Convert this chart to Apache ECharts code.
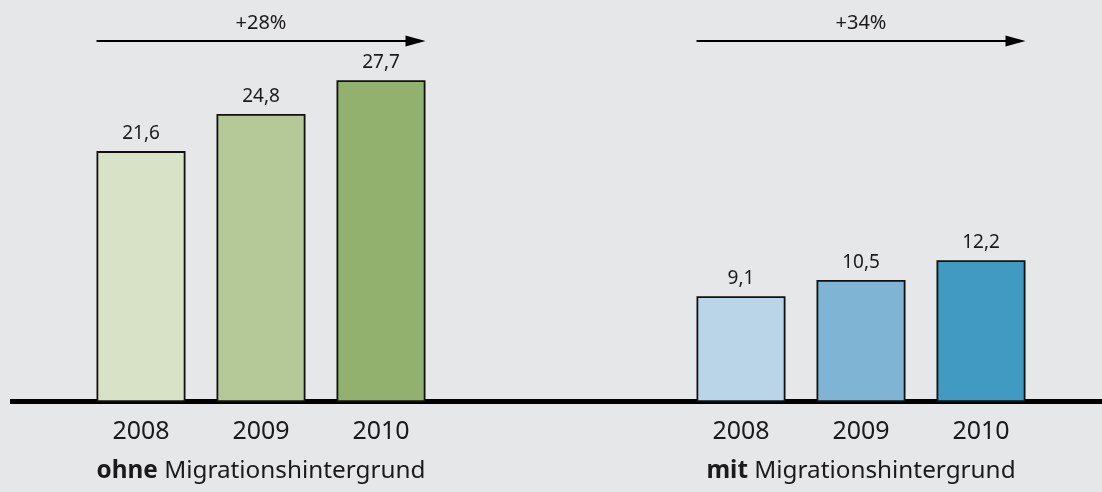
<!DOCTYPE html>
<html>
<head>
<meta charset="utf-8">
<script src="https://cdn.jsdelivr.net/npm/echarts@6/dist/echarts.min.js"></script>
<style>
html,body{margin:0;padding:0;background:#e6e7e9;}
#chart{width:1102px;height:492px;}
</style>
</head>
<body>
<div id="chart"></div>
<script>
// ---- data ----
const categories = ['2008', '2009', '2010', '', '', '2008', '2009', '2010'];
const ohneValues = [21.6, 24.8, 27.7];
const mitValues = [9.1, 10.5, 12.2];
const groupLabels = ['ohne', 'mit'];
const groupSuffix = ' Migrationshintergrund';
const changeLabels = ['+28%', '+34%'];

const ohneColors = ['#d8e2c7', '#b4c898', '#92b06e'];
const mitColors = ['#bad5e8', '#7fb4d4', '#409ac1'];

const FONT = '"Noto Sans", "Open Sans", sans-serif';
const BAR_W = 89;

const seriesData = [];
ohneValues.forEach((v, i) => seriesData.push({ value: v, itemStyle: { color: ohneColors[i] } }));
seriesData.push('-', '-');
mitValues.forEach((v, i) => seriesData.push({ value: v, itemStyle: { color: mitColors[i] } }));

const chart = echarts.init(document.getElementById('chart'));
const option = {
  backgroundColor: '#e6e7e9',
  animation: false,
  grid: [
    { left: 81, right: 61, top: 53.5, bottom: 90, containLabel: false },
    { left: 10, right: 0, top: 53.5, bottom: 91, containLabel: false }
  ],
  xAxis: [
    {
      type: 'category', gridIndex: 0, data: categories,
      axisLine: { show: false }, axisTick: { show: false },
      axisLabel: { fontFamily: FONT, fontSize: 25, color: '#1a1a1a', margin: 17 }
    },
    {
      type: 'value', gridIndex: 1, min: 0, max: 1,
      axisLine: { show: true, onZero: false, lineStyle: { color: '#000', width: 5, cap: 'butt' } },
      axisTick: { show: false }, axisLabel: { show: false }, splitLine: { show: false }
    }
  ],
  yAxis: [
    { type: 'value', gridIndex: 0, min: 0, max: 30, show: false },
    { type: 'value', gridIndex: 1, min: 0, max: 30, show: false }
  ],
  series: [
    {
      type: 'bar', xAxisIndex: 0, yAxisIndex: 0, data: seriesData,
      barWidth: BAR_W, z: 3,
      itemStyle: { borderColor: '#111', borderWidth: 1.8 },
      label: {
        show: true, position: 'top', distance: 8,
        fontFamily: FONT, fontSize: 19, color: '#1a1a1a',
        formatter: p => String(p.value).replace('.', ',')
      }
    },
    { type: 'line', xAxisIndex: 1, yAxisIndex: 1, data: [], silent: true }
  ]
};
chart.setOption(option);

// annotations positioned through the chart's own scales
function px(idx, val) { return chart.convertToPixel({ xAxisIndex: 0, yAxisIndex: 0 }, [idx, val]); }
const groups = [[0, 2], [5, 7]];
const graphics = [];
const arrowY = 41;
groups.forEach((g, gi) => {
  const x0 = px(g[0], 0)[0] - BAR_W / 2;
  const x1 = px(g[1], 0)[0] + BAR_W / 2;
  const xc = (px(g[0], 0)[0] + px(g[1], 0)[0]) / 2;
  graphics.push({
    type: 'line', shape: { x1: x0, y1: arrowY, x2: x1 - 18, y2: arrowY },
    style: { stroke: '#000', lineWidth: 2 }
  });
  graphics.push({
    type: 'polygon', shape: { points: [[x1 - 20, arrowY - 5.5], [x1, arrowY], [x1 - 20, arrowY + 5.5]] },
    style: { fill: '#000' }
  });
  graphics.push({
    type: 'text', x: xc, y: 23,
    style: { text: changeLabels[gi], fontFamily: FONT, fontSize: 20, fill: '#1a1a1a', align: 'center', verticalAlign: 'middle' }
  });
  graphics.push({
    type: 'text', x: xc, y: 471,
    style: {
      text: '{b|' + groupLabels[gi] + '}{n|' + groupSuffix + '}',
      align: 'center', verticalAlign: 'middle',
      rich: {
        b: { fontFamily: FONT, fontSize: 24.3, fontWeight: 'bold', fill: '#1a1a1a' },
        n: { fontFamily: FONT, fontSize: 24.3, fill: '#1a1a1a' }
      }
    }
  });
});
chart.setOption({ graphic: graphics });
</script>
</body>
</html>
